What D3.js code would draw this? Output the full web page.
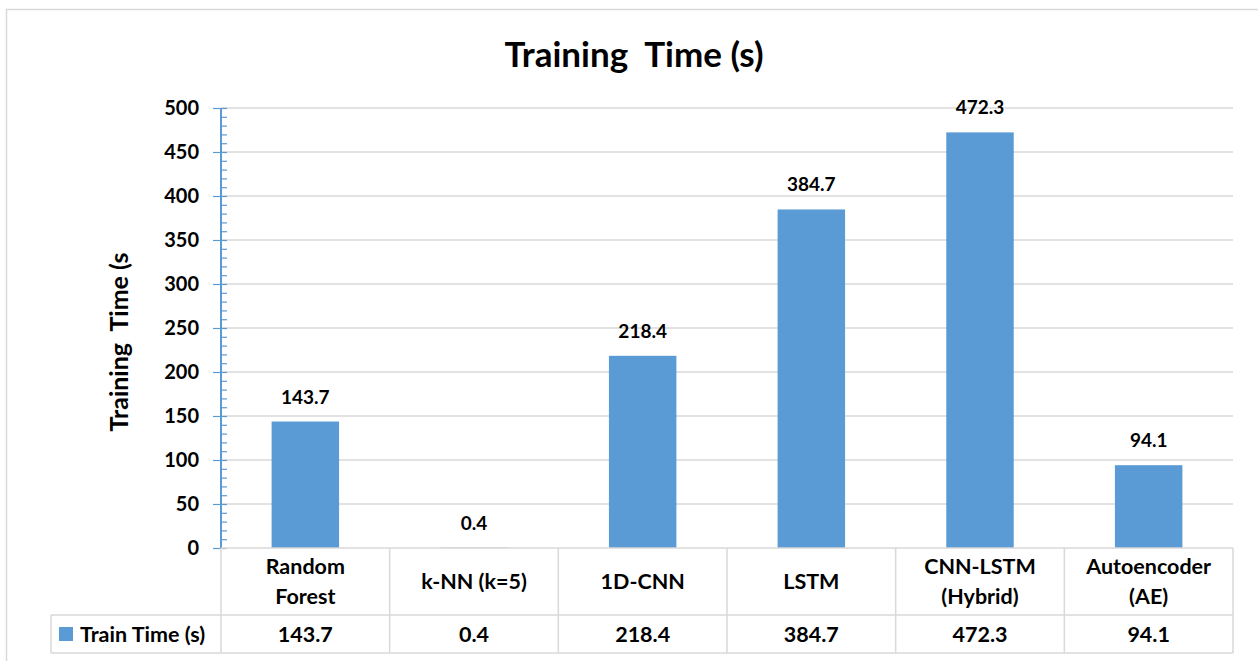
<!DOCTYPE html>
<html>
<head>
<meta charset="utf-8">
<script src="https://cdn.jsdelivr.net/npm/d3@7"></script>
<style>
  html, body { margin: 0; padding: 0; background: #fff; }
  svg { display: block; font-family: Lato, "Open Sans", sans-serif; font-weight: bold; }
  .pre { white-space: pre; }
</style>
</head>
<body>
<svg id="chart" width="1258" height="661"></svg>
<script>
// Model names (each split into the lines shown in the data table)
const categories = [
  ["Random", "Forest"],
  ["k-NN (k=5)"],
  ["1D-CNN"],
  ["LSTM"],
  ["CNN-LSTM", "(Hybrid)"],
  ["Autoencoder", "(AE)"]
];
// Training time in seconds per model
const trainTime = [143.7, 0.4, 218.4, 384.7, 472.3, 94.1];
const seriesName = "Train Time (s)";
const yTicks = [0, 50, 100, 150, 200, 250, 300, 350, 400, 450, 500];

const BLUE = "#5B9BD5";
const GRID = "#D9D9D9";

const svg = d3.select("#chart");

// Chart frame
svg.append("rect")
  .attr("x", 6.5).attr("y", 9.5)
  .attr("width", 1300).attr("height", 700)
  .attr("fill", "#fff").attr("stroke", GRID).attr("stroke-width", 1.5);

const plot = { left: 221, right: 1233, top: 108, bottom: 548 };
const table = { top: 548, mid: 615, bottom: 653, legendLeft: 51 };

const x = d3.scaleBand()
  .domain(d3.range(categories.length))
  .range([plot.left, plot.right])
  .padding(0);

const y = d3.scaleLinear().domain([0, 500]).range([plot.bottom, plot.top]);

// Title
svg.append("text")
  .attr("class", "pre")
  .attr("x", 634).attr("y", 67)
  .attr("text-anchor", "middle")
  .attr("font-size", 35)
  .attr("fill", "#000")
  .text("Training  Time (s)");

// Horizontal gridlines
svg.append("g")
  .selectAll("line")
  .data(yTicks.filter(t => t > 0))
  .join("line")
  .attr("x1", plot.left).attr("x2", plot.right)
  .attr("y1", d => y(d)).attr("y2", d => y(d))
  .attr("stroke", GRID).attr("stroke-width", 1.5);

// Bars
const barW = x.bandwidth() * 0.4;
svg.append("g")
  .selectAll("rect")
  .data(trainTime)
  .join("rect")
  .attr("x", (d, i) => x(i) + (x.bandwidth() - barW) / 2)
  .attr("width", barW)
  .attr("y", d => y(d))
  .attr("height", d => y(0) - y(d))
  .attr("fill", BLUE);

// Value labels above bars
svg.append("g")
  .selectAll("text")
  .data(trainTime)
  .join("text")
  .attr("x", (d, i) => x(i) + x.bandwidth() / 2)
  .attr("y", d => y(d) - 18)
  .attr("text-anchor", "middle")
  .attr("font-size", 19)
  .attr("fill", "#000")
  .text(d => d.toFixed(1));

// Y axis: major ticks every 50 crossing the line, minor ticks every 10 inside
const yAxis = svg.append("g");
yAxis.append("g")
  .attr("transform", `translate(${plot.left},0)`)
  .call(d3.axisRight(y).tickValues(d3.range(0, 501, 10)).tickSize(6).tickFormat(""))
  .call(g => g.select(".domain").remove())
  .call(g => g.selectAll("line").attr("stroke", BLUE).attr("stroke-width", 1.2));
yAxis.append("g")
  .attr("transform", `translate(${plot.left},0)`)
  .call(d3.axisLeft(y).tickValues(yTicks).tickSize(8).tickPadding(14).tickFormat(d3.format("d")))
  .call(g => g.select(".domain").attr("stroke", BLUE).attr("stroke-width", 2).attr("d", `M0,${plot.top}V${plot.bottom}`))
  .call(g => g.selectAll("line").attr("stroke", BLUE).attr("stroke-width", 1.2))
  .call(g => g.selectAll("text")
    .attr("font-family", "Lato, sans-serif")
    .attr("font-weight", "bold")
    .attr("font-size", 20)
    .attr("fill", "#000"));

// Y axis title
svg.append("text")
  .attr("class", "pre")
  .attr("transform", "translate(128,342) rotate(-90)")
  .attr("text-anchor", "middle")
  .attr("font-size", 25)
  .attr("fill", "#000")
  .text("Training  Time (s");

// Data table grid
const tg = svg.append("g").attr("stroke", GRID).attr("stroke-width", 1.5);
tg.append("line")
  .attr("x1", plot.left).attr("x2", plot.right)
  .attr("y1", table.top).attr("y2", table.top);
tg.append("line")
  .attr("x1", table.legendLeft).attr("x2", plot.right)
  .attr("y1", table.mid).attr("y2", table.mid);
tg.append("line")
  .attr("x1", table.legendLeft).attr("x2", plot.right)
  .attr("y1", table.bottom).attr("y2", table.bottom);
tg.append("line")
  .attr("x1", table.legendLeft).attr("x2", table.legendLeft)
  .attr("y1", table.mid).attr("y2", table.bottom);
tg.selectAll("line.col")
  .data(d3.range(categories.length + 1))
  .join("line")
  .attr("class", "col")
  .attr("x1", i => i < categories.length ? x(i) : plot.right)
  .attr("x2", i => i < categories.length ? x(i) : plot.right)
  .attr("y1", table.top).attr("y2", table.bottom);

// Category names in the table header row
const lineGap = 30;
svg.append("g")
  .selectAll("text")
  .data(categories)
  .join("text")
  .attr("x", (d, i) => x(i) + x.bandwidth() / 2)
  .attr("y", d => (table.top + table.mid) / 2 - (d.length - 1) * lineGap / 2)
  .attr("text-anchor", "middle")
  .attr("font-size", 21.5)
  .attr("fill", "#000")
  .each(function (d) {
    d3.select(this).selectAll("tspan")
      .data(d)
      .join("tspan")
      .attr("x", d3.select(this).attr("x"))
      .attr("dy", (t, k) => k === 0 ? "0.35em" : lineGap)
      .text(t => t);
  });

// Values row
svg.append("g")
  .selectAll("text")
  .data(trainTime)
  .join("text")
  .attr("x", (d, i) => x(i) + x.bandwidth() / 2)
  .attr("y", (table.mid + table.bottom) / 2)
  .attr("dy", "0.35em")
  .attr("text-anchor", "middle")
  .attr("font-size", 21.5)
  .attr("fill", "#000")
  .text(d => d.toFixed(1));

// Legend key inside the table
svg.append("rect")
  .attr("x", 59).attr("y", 627)
  .attr("width", 14).attr("height", 14)
  .attr("fill", BLUE);
svg.append("text")
  .attr("x", 80).attr("y", (table.mid + table.bottom) / 2)
  .attr("dy", "0.35em")
  .attr("font-size", 21.5)
  .attr("fill", "#000")
  .text(seriesName);
</script>
</body>
</html>
